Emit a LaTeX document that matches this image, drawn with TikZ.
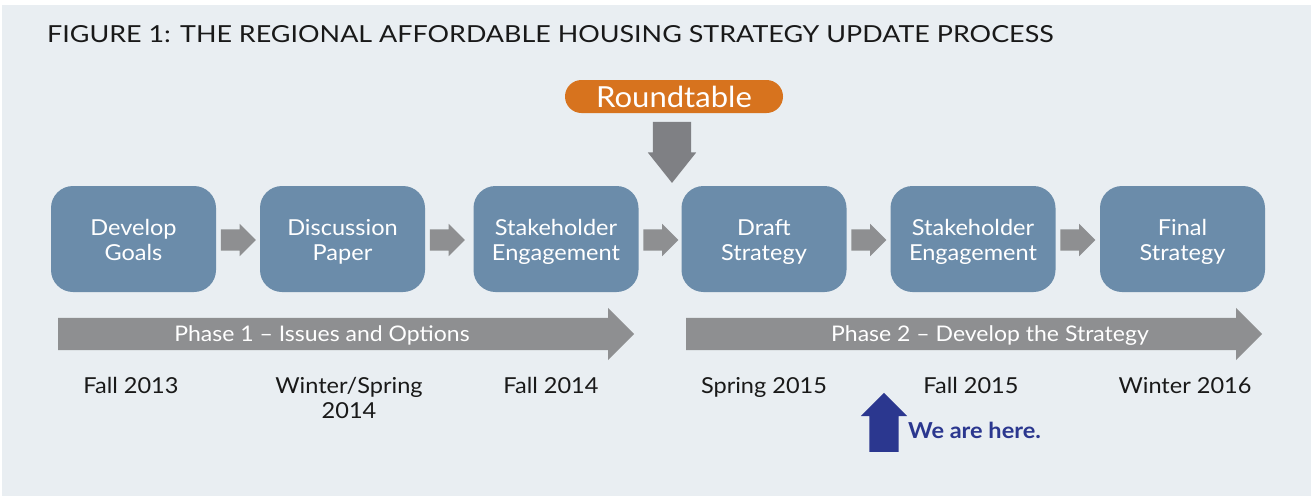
\documentclass[tikz,border=0pt]{standalone}
\usepackage{fontspec}
\usepackage{graphicx}
\setmainfont{Lato}[FakeStretch=1.07]
\usetikzlibrary{shapes.arrows,calc}
\definecolor{bgc}{RGB}{233,238,242}
\definecolor{boxc}{RGB}{107,140,170}
\definecolor{arrc}{RGB}{142,143,145}
\definecolor{darrc}{RGB}{127,128,132}
\definecolor{orc}{RGB}{215,115,30}
\definecolor{bluec}{RGB}{43,55,143}
\definecolor{txtc}{RGB}{25,25,25}
\newcommand{\boxlines}[2]{\rule{0pt}{24pt}#1\\#2\rule[-7pt]{0pt}{7pt}}
\tikzset{
  stagebox/.style={rounded corners=22pt, fill=boxc, minimum width=165pt, minimum height=106pt,
    text=white, align=center, inner sep=0pt, font=\fontsize{22}{25}\selectfont},
  blockarrow/.style={single arrow, inner xsep=0pt, draw=none, anchor=tail},
  smallarrow/.style={blockarrow, fill=arrc, minimum height=35pt, inner ysep=10.5pt,
    single arrow head extend=5.5pt},
  phasearrow/.style={blockarrow, fill=arrc, minimum height=576pt, inner ysep=16pt,
    single arrow head extend=10pt},
  phasetext/.style={text=white, font=\fontsize{21.5}{24}\selectfont, inner sep=0pt, anchor=base},
  datetext/.style={text=txtc, align=center, font=\fontsize{22}{25}\selectfont, inner sep=0pt, anchor=base},
}
\begin{document}
\begin{tikzpicture}[x=1pt,y=-1pt]
\useasboundingbox (0,0) rectangle (1311,496);
\fill[bgc] (2,5) rectangle (1311,496);
\node[anchor=base west, inner sep=0pt, text=txtc] (title) at (47,42)
  {\resizebox{1006pt}{17pt}{FIGURE 1: THE REGIONAL AFFORDABLE HOUSING STRATEGY UPDATE PROCESS}};
% roundtable
\node[rounded corners=16.5pt, fill=orc, minimum width=218pt, minimum height=33pt, inner sep=0pt,
  text=white, font=\fontsize{29}{30}\selectfont] (rt) at (674,96.5) {Roundtable};
\coordinate (dtail) at ($(rt.south)+(-2,8.5)$);
\node[blockarrow, fill=darrc, rotate=-90, minimum height=61pt, inner ysep=19pt,
  single arrow head extend=5pt, single arrow tip angle=77] (down) at (dtail) {};
% boxes
\node[stagebox] (b1) at (133.5,239) {\boxlines{Develop}{Goals}};
\node[stagebox] (b2) at (342.5,239) {\boxlines{Discussion}{Paper}};
\node[stagebox] (b3) at (556,239) {\boxlines{Stakeholder}{Engagement}};
\node[stagebox] (b4) at (764,239) {\boxlines{Draft}{Strategy}};
\node[stagebox] (b5) at (973,239) {\boxlines{Stakeholder}{Engagement}};
\node[stagebox] (b6) at (1182.5,239) {\boxlines{Final}{Strategy}};
% small arrows
\node[smallarrow] (a12) at ($(b1.east)+(4.5,1)$) {};
\node[smallarrow] (a23) at ($(b2.east)+(4.5,1)$) {};
\node[smallarrow] (a34) at ($(b3.east)+(4.5,1)$) {};
\node[smallarrow] (a45) at ($(b4.east)+(4.5,1)$) {};
\node[smallarrow] (a56) at ($(b5.east)+(4.5,1)$) {};
% phase arrows
\node[phasearrow] (p1) at (58,334) {};
\node[phasearrow] (p2) at (686,334) {};
\node[phasetext] (p1t) at (322,341) {Phase 1 – Issues and Options};
\node[phasetext] (p2t) at (990,341) {Phase 2 – Develop the Strategy};
% dates
\node[datetext] (d1) at (131,393) {Fall 2013};
\node[datetext] (d2) at (349,418) {Winter/Spring\\2014};
\node[datetext] (d3) at (551,393) {Fall 2014};
\node[datetext] (d4) at (764,393) {Spring 2015};
\node[datetext] (d5) at (971,393) {Fall 2015};
\node[datetext] (d6) at (1185,393) {Winter 2016};
% we are here
\node[blockarrow, fill=bluec, rotate=90, minimum height=59pt, inner ysep=14.5pt,
  single arrow head extend=8.5pt] (up) at (884,452) {};
\node[anchor=base west, inner sep=0pt, text=bluec, font=\bfseries\fontsize{22}{24}\selectfont] (here) at (908,438) {We are here.};
\end{tikzpicture}
\end{document}
